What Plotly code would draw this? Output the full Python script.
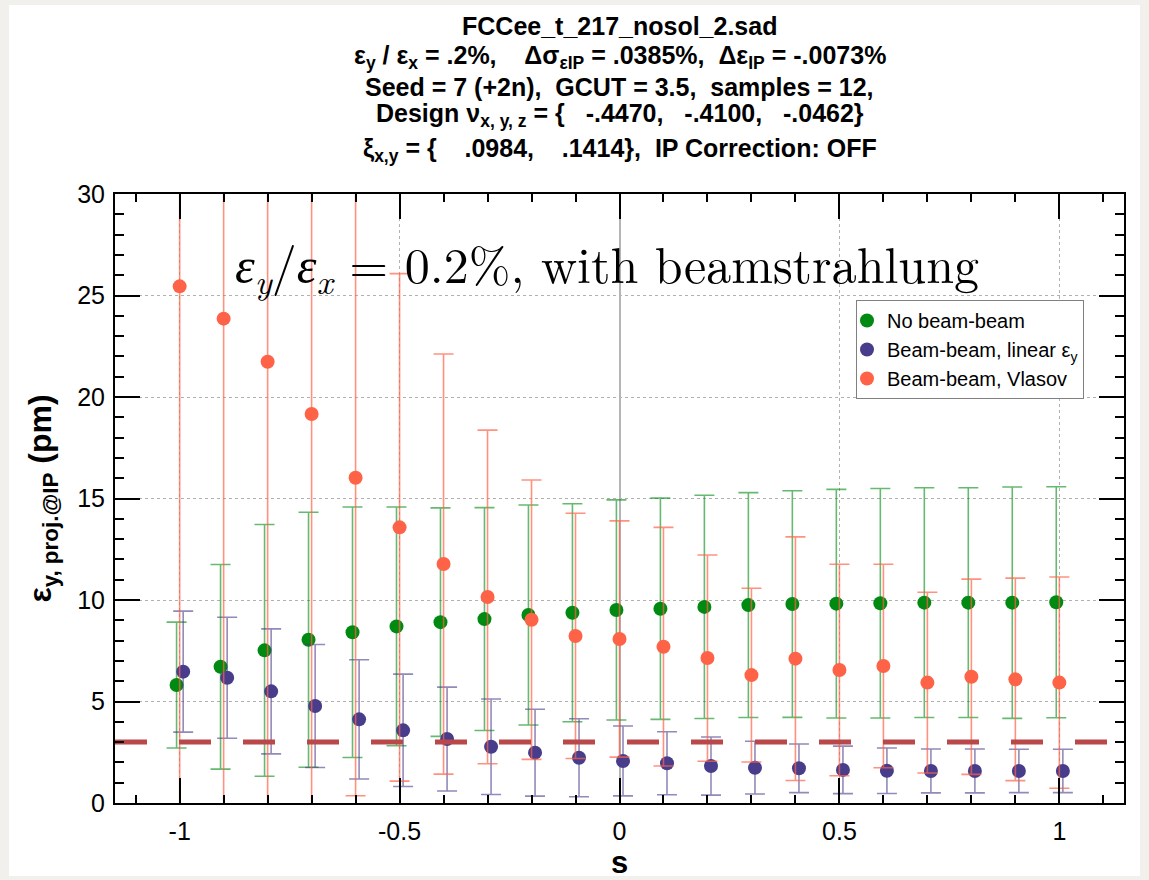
import plotly.graph_objects as go

# ---------------- data ----------------
S = [-1.0, -0.9, -0.8, -0.7, -0.6, -0.5, -0.4, -0.3, -0.2, -0.1, 0.0,
     0.1, 0.2, 0.3, 0.4, 0.5, 0.6, 0.7, 0.8, 0.9, 1.0]

no_bb = [5.81, 6.71, 7.52, 8.04, 8.41, 8.70, 8.91, 9.06, 9.26, 9.37, 9.51,
         9.57, 9.66, 9.75, 9.80, 9.82, 9.84, 9.87, 9.87, 9.87, 9.89]
no_bb_err = [3.10, 5.04, 6.20, 6.28, 6.17, 5.88, 5.63, 5.49, 5.42, 5.37, 5.42,
             5.45, 5.50, 5.54, 5.58, 5.63, 5.65, 5.66, 5.66, 5.70, 5.69]

bb_linear = [6.47, 6.17, 5.50, 4.78, 4.12, 3.58, 3.15, 2.77, 2.48, 2.23, 2.07,
             1.96, 1.82, 1.74, 1.71, 1.63, 1.59, 1.58, 1.58, 1.58, 1.58]
bb_linear_err = [2.98, 2.98, 3.08, 3.03, 2.94, 2.77, 2.56, 2.35, 2.14, 1.92, 1.72,
                 1.55, 1.43, 1.30, 1.20, 1.17, 1.12, 1.08, 1.08, 1.07, 1.07]

bb_vlasov = [25.45, 23.86, 21.74, 19.16, 16.02, 13.58, 11.77, 10.15, 9.03, 8.23, 8.08,
             7.70, 7.14, 6.30, 7.11, 6.55, 6.75, 5.93, 6.22, 6.09, 5.93]
bb_vlasov_err = [30.0, 27.0, 24.0, 21.0, 15.66, 12.50, 10.35, 8.22, 6.88, 6.04, 5.82,
                 5.88, 5.08, 4.28, 6.00, 5.21, 5.01, 4.45, 4.81, 4.99, 5.20]

reference_level = 3.0

series_names = ["No beam-beam", "Beam-beam, linear ε<sub>y</sub>", "Beam-beam, Vlasov"]

x_tick_vals = [-1, -0.5, 0, 0.5, 1]
x_tick_text = ["-1", "-0.5", "0", "0.5", "1"]
y_tick_vals = [0, 5, 10, 15, 20, 25, 30]
y_tick_text = ["0", "5", "10", "15", "20", "25", "30"]

title_lines = [
    "FCCee_t_217_nosol_2.sad",
    "ε<sub>y</sub> / ε<sub>x</sub> = .2%,    Δσ<sub>εIP</sub> = .0385%,  Δε<sub>IP</sub> = -.0073%",
    "Seed = 7 (+2n),  GCUT = 3.5,  samples = 12,",
    "Design ν<sub>x, y, z</sub> = {   -.4470,   -.4100,   -.0462}",
    "ξ<sub>x,y</sub> = {    .0984,    .1414},  IP Correction: OFF",
]
big_label = "<i>ε</i><sub><i>y</i></sub>/<i>ε</i><sub><i>x</i></sub> = 0.2%, with beamstrahlung"

# ---------------- layout constants ----------------
W, H = 1149, 880
L, R, T, B = 115, 25, 194, 77
PW, PH = W - L - R, H - T - B
X_RANGE = [-1.147, 1.147]
Y_RANGE = [0, 30]


def px_x(px):
    return (px - L) / PW


def px_y(py):
    return (H - B - py) / PH


SANS = "Liberation Sans, Arial, Helvetica, sans-serif"
SERIF = "Latin Modern Roman, CMU Serif, Liberation Serif, DejaVu Serif, serif"

styles = [
    dict(color="#008a12", err="rgba(0,138,18,0.6)", dx=-0.007),
    dict(color="#483d8b", err="rgba(72,61,139,0.6)", dx=0.008),
    dict(color="#ff6347", err="rgba(255,99,71,0.7)", dx=0.0),
]
values = [(no_bb, no_bb_err), (bb_linear, bb_linear_err), (bb_vlasov, bb_vlasov_err)]

fig = go.Figure()
for name, (vals, errs), st in zip(series_names, values, styles):
    fig.add_trace(go.Scatter(
        x=[s + st["dx"] for s in S], y=vals, name=name, mode="markers",
        marker=dict(color=st["color"], size=14, line=dict(width=0)),
        error_y=dict(type="data", array=errs, visible=True, color=st["err"],
                     thickness=1.6, width=10),
    ))

fig.add_trace(go.Scatter(
    x=X_RANGE, y=[reference_level, reference_level], mode="lines",
    line=dict(color="#b8484a", width=5, dash="32px,32px"),
    showlegend=False, hoverinfo="skip",
))

axis_common = dict(
    showline=True, linecolor="black", linewidth=2, mirror="allticks",
    ticks="inside", ticklen=25, tickwidth=2, tickcolor="black",
    showgrid=True, gridcolor="#b0b0b0", griddash="dot", gridwidth=1,
    tickfont=dict(family=SANS, size=25, color="black"),
)

fig.update_xaxes(
    range=X_RANGE, tickmode="array", tickvals=x_tick_vals, ticktext=x_tick_text,
    zeroline=True, zerolinecolor="#b5b5b5", zerolinewidth=2,
    minor=dict(tickmode="linear", tick0=0, dtick=0.1, ticks="inside", ticklen=8,
               tickwidth=2, tickcolor="black", showgrid=False),
    title=dict(text="s", font=dict(family=SANS, size=31, color="black", weight="bold"),
               standoff=6),
    ticklabelstandoff=5,
    **axis_common,
)
fig.update_yaxes(
    range=Y_RANGE, tickmode="array", tickvals=y_tick_vals, ticktext=y_tick_text,
    zeroline=False,
    minor=dict(tickmode="linear", tick0=0, dtick=1, ticks="inside", ticklen=9,
               tickwidth=2, tickcolor="black", showgrid=False),
    title=dict(text="ε<sub>y, proj.@IP</sub> (pm)",
               font=dict(family=SANS, size=32, color="black", weight="bold"),
               standoff=16),
    ticklabelstandoff=3,
    **axis_common,
)

annotations = []
title_tops = [10, 39, 71, 97, 132]
for line, top in zip(title_lines, title_tops):
    annotations.append(dict(
        text=line, xref="paper", yref="paper", x=0.5, y=px_y(top),
        xanchor="center", yanchor="top", showarrow=False,
        font=dict(family=SANS, size=25, color="black", weight="bold"),
    ))
annotations.append(dict(
    text=big_label, xref="paper", yref="paper", x=px_x(607), y=px_y(265),
    xanchor="center", yanchor="middle", showarrow=False,
    font=dict(family=SERIF, size=50, color="black"),
))

fig.update_layout(
    width=W, height=H,
    margin=dict(l=L, r=R, t=T, b=B, autoexpand=False),
    paper_bgcolor="#f2f0ec", plot_bgcolor="white",
    font=dict(family=SANS, color="black"),
    showlegend=True,
    legend=dict(
        x=px_x(856), y=px_y(300), xanchor="left", yanchor="top",
        bgcolor="white", bordercolor="#808080", borderwidth=1,
        font=dict(family=SANS, size=20, color="black"),
        itemwidth=30, tracegroupgap=0, indentation=-10,
    ),
    annotations=annotations,
    shapes=[dict(type="rect", xref="paper", yref="paper", layer="below",
                 x0=px_x(9), x1=px_x(1140), y0=px_y(876), y1=px_y(5),
                 fillcolor="white", line=dict(width=0))],
)

fig.write_html("out.html")
